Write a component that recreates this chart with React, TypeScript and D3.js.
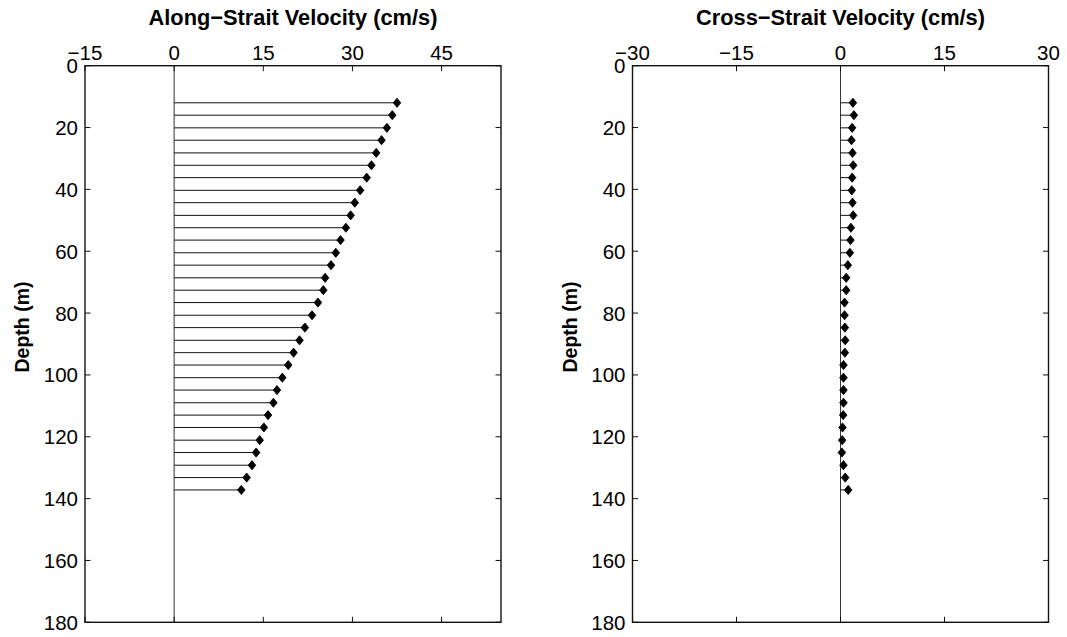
import React from "react";
import * as d3 from "d3";

const depths = [12.0, 16.0, 20.1, 24.1, 28.2, 32.2, 36.2, 40.3, 44.3, 48.4, 52.4, 56.4, 60.5, 64.5, 68.6, 72.6,
  76.6, 80.7, 84.7, 88.8, 92.8, 96.8, 100.9, 104.9, 109.0, 113.0, 117.0, 121.1, 125.1, 129.2, 133.2, 137.2];
const alongVel = [37.5, 36.7, 35.8, 34.9, 34.0, 33.2, 32.4, 31.3, 30.4, 29.7, 28.9, 28.0, 27.2, 26.4, 25.4, 25.1,
  24.2, 23.2, 22.0, 21.1, 20.1, 19.2, 18.2, 17.3, 16.7, 15.8, 15.1, 14.4, 13.8, 13.1, 12.2, 11.3];
const crossVel = [1.79, 1.93, 1.68, 1.58, 1.73, 1.83, 1.68, 1.63, 1.73, 1.83, 1.5, 1.44, 1.35, 1.06, 0.82, 0.82,
  0.58, 0.58, 0.63, 0.68, 0.63, 0.43, 0.43, 0.43, 0.43, 0.39, 0.29, 0.24, 0.2, 0.43, 0.68, 1.11];
const alongTicks = [-15, 0, 15, 30, 45];
const crossTicks = [-30, -15, 0, 15, 30];
const depthTicks = [0, 20, 40, 60, 80, 100, 120, 140, 160, 180];
const titles = ["Along\u2212Strait Velocity (cm/s)", "Cross\u2212Strait Velocity (cm/s)"];
const yLabel = "Depth (m)";

const FONT = "'Liberation Sans', Arial, Helvetica, sans-serif";
const fmt = (v: number) => (v < 0 ? "\u2212" + Math.abs(v) : String(v));

function Panel({ x, title, xTicks, values }: { x: d3.ScaleLinear<number, number>; title: string; xTicks: number[]; values: number[] }) {
  const y = d3.scaleLinear().domain([0, 180]).range([65.7, 622.3]);
  const [x0, x1] = x.range();
  const [y0, y1] = y.range();
  const tl = 5.5;
  const hw = 3.8, hh = 4.6;
  return (
    <g>
      <line x1={x(0)} x2={x(0)} y1={y0} y2={y1} stroke="#333" strokeWidth={1} />
      {values.map((v, i) => (
        <line key={"s" + i} x1={x(0)} x2={x(v)} y1={y(depths[i])} y2={y(depths[i])} stroke="#111" strokeWidth={1} />
      ))}
      {values.map((v, i) => {
        const cx = x(v), cy = y(depths[i]);
        return (
          <path key={"d" + i} d={`M${cx},${cy - hh}L${cx + hw},${cy}L${cx},${cy + hh}L${cx - hw},${cy}Z`} fill="#000" stroke="#000" strokeWidth={0.8} />
        );
      })}
      <rect x={x0} y={y0} width={x1 - x0} height={y1 - y0} fill="none" stroke="#111" strokeWidth={1.4} />
      {xTicks.map((t) => (
        <g key={"xt" + t}>
          <line x1={x(t)} x2={x(t)} y1={y0} y2={y0 + tl} stroke="#111" strokeWidth={1} />
          <line x1={x(t)} x2={x(t)} y1={y1} y2={y1 - tl} stroke="#111" strokeWidth={1} />
          <text x={x(t)} y={y0 - 5.5} textAnchor="middle" fontSize={20.5} fontFamily={FONT} fill="#000">{fmt(t)}</text>
        </g>
      ))}
      {depthTicks.map((t) => (
        <g key={"yt" + t}>
          <line x1={x0} x2={x0 + tl} y1={y(t)} y2={y(t)} stroke="#111" strokeWidth={1} />
          <line x1={x1} x2={x1 - tl} y1={y(t)} y2={y(t)} stroke="#111" strokeWidth={1} />
          <text x={x0 - 7} y={y(t) + 7.5} textAnchor="end" fontSize={20.5} fontFamily={FONT} fill="#000">{fmt(t)}</text>
        </g>
      ))}
      <text x={(x0 + x1) / 2} y={25} textAnchor="middle" fontSize={21.8} fontWeight="bold" fontFamily={FONT} fill="#000">{title}</text>
      <text transform={`translate(${x0 - 56},327) rotate(-90)`} textAnchor="middle" fontSize={19.5} fontWeight="bold" fontFamily={FONT} fill="#000">{yLabel}</text>
    </g>
  );
}

export default function App() {
  const xAlong = d3.scaleLinear().domain([-15, 55]).range([85, 501]);
  const xCross = d3.scaleLinear().domain([-30, 30]).range([632.5, 1048.5]);
  return (
    <svg width={1067} height={637} style={{ position: "absolute", left: 0, top: 0, background: "#fff" }}>
      <rect width={1067} height={637} fill="#fff" />
      <Panel x={xAlong} title={titles[0]} xTicks={alongTicks} values={alongVel} />
      <Panel x={xCross} title={titles[1]} xTicks={crossTicks} values={crossVel} />
    </svg>
  );
}
